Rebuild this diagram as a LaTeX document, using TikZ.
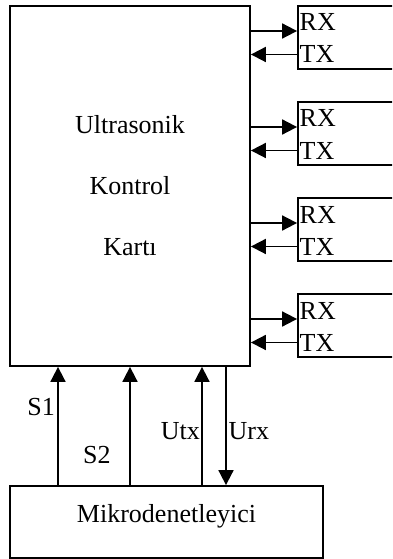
\documentclass[tikz,border=0pt]{standalone}
\usepackage{fontspec}
\setmainfont{Liberation Serif}
\usepackage{tikz}
\usetikzlibrary{arrows.meta}
\tikzstyle{blk}=[rectangle, draw, line width=1.8pt, inner sep=0pt]
\tikzstyle{txt}=[inner sep=0pt, font=\fontsize{26}{61}\selectfont]
\tikzstyle{sig}=[line width=1.8pt, -{Triangle[length=15pt,width=15pt]}]

\begin{document}
\begin{tikzpicture}[x=1pt, y=-1pt]
\clip (0,0) rectangle (392,559);
\node[blk, txt, align=center, minimum width=240pt, minimum height=360pt] (main) at (130,186) {Ultrasonik\\Kontrol\\Kartı};
\node[blk, minimum width=313pt, minimum height=72pt] (mk) at (166.5,522) {};
\node[txt, anchor=base] (mktxt) at (166.5,522) {Mikrodenetleyici};
% RX/TX modules
\node[blk, minimum width=104pt, minimum height=63pt] (b1) at (350,37.5) {};
\node[blk, minimum width=104pt, minimum height=63pt] (b2) at (350,133.5) {};
\node[blk, minimum width=104pt, minimum height=63pt] (b3) at (350,229.5) {};
\node[blk, minimum width=104pt, minimum height=63pt] (b4) at (350,325.5) {};
\node[txt, anchor=base west] (rx1) at (299.5,31) {RX};
\node[txt, anchor=base west] (tx1) at (299.5,63) {TX};
\node[txt, anchor=base west] (rx2) at (299.5,127) {RX};
\node[txt, anchor=base west] (tx2) at (299.5,159) {TX};
\node[txt, anchor=base west] (rx3) at (299.5,223) {RX};
\node[txt, anchor=base west] (tx3) at (299.5,255) {TX};
\node[txt, anchor=base west] (rx4) at (299.5,319) {RX};
\node[txt, anchor=base west] (tx4) at (299.5,351) {TX};
\draw[sig] (main.east |- rx1.base) -- (b1.west |- rx1.base);
\draw[sig] (b1.west |- tx1) -- (main.east |- tx1);
\draw[sig] (main.east |- rx2.base) -- (b2.west |- rx2.base);
\draw[sig] (b2.west |- tx2) -- (main.east |- tx2);
\draw[sig] (main.east |- rx3.base) -- (b3.west |- rx3.base);
\draw[sig] (b3.west |- tx3) -- (main.east |- tx3);
\draw[sig] (main.east |- rx4.base) -- (b4.west |- rx4.base);
\draw[sig] (b4.west |- tx4) -- (main.east |- tx4);
% signal lines
\coordinate (xs1) at (58,420);
\coordinate (xs2) at (130,420);
\coordinate (xutx) at (202,420);
\coordinate (xurx) at (226,420);
\draw[sig] (mk.north -| xs1) -- (main.south -| xs1);
\draw[sig] (mk.north -| xs2) -- (main.south -| xs2);
\draw[sig] (mk.north -| xutx) -- (main.south -| xutx);
\draw[sig] (main.south -| xurx) -- (mk.north -| xurx);
\node[txt, anchor=base east] (ls1) at (55,415) {S1};
\node[txt, anchor=base west] (ls2) at (83,463) {S2};
\node[txt, anchor=base east] (lutx) at (200,439) {Utx};
\node[txt, anchor=base west] (lurx) at (228.5,439) {Urx};
\end{tikzpicture}
\end{document}
